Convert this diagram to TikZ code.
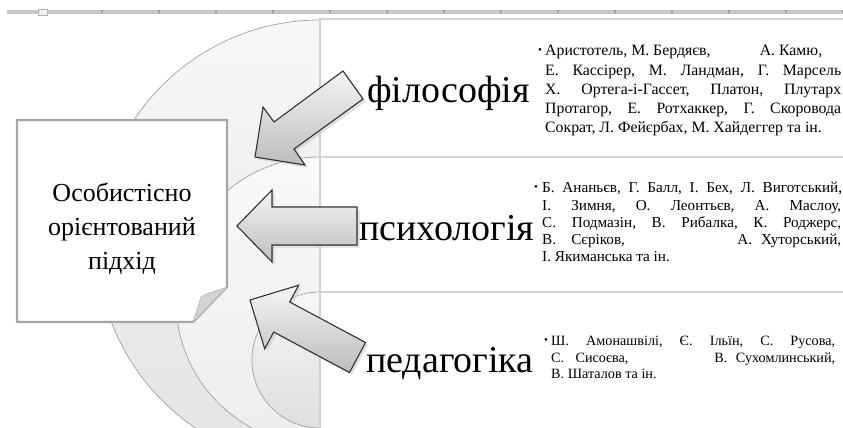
\documentclass[tikz,border=0pt]{standalone}
\usepackage{fontspec}
\setmainfont{Liberation Serif}
\definecolor{ringedge}{HTML}{A8A8A8}
\definecolor{rectedge}{HTML}{D2D2D2}
\definecolor{boxedge}{HTML}{A6A6A6}
\definecolor{rulergray}{HTML}{C8C8C8}
\newcommand\blockarr[1]{%
  \fill[gray!45, opacity=0.55, shift={(2.5,2.5)}] #1 -- cycle;
  \filldraw[arrowsty] #1 -- cycle;}
\begin{document}
\frenchspacing
\begin{tikzpicture}[x=1pt,y=-1pt,
  arrowsty/.style={draw=black!80, line width=1.1pt, line join=miter, top color=gray!8, bottom color=gray!52},
  ringsty/.style={draw=ringedge, line width=0.8pt},
  rectsty/.style={fill=white, draw=rectedge, line width=1.5pt},
  bigLabel/.style={anchor=base west, inner sep=0pt, font=\fontsize{38}{40}\selectfont},
  lnA/.style={anchor=base west, inner sep=0pt, font=\fontsize{15.8}{18}\selectfont},
  lnB/.style={anchor=base west, inner sep=0pt, font=\fontsize{15.2}{17}\selectfont},
  lnC/.style={anchor=base west, inner sep=0pt, font=\fontsize{14.2}{16}\selectfont},
  bul/.style={anchor=base west, inner sep=0pt, font=\fontsize{11}{12}\selectfont},
  boxtext/.style={align=center, inner sep=0pt, font=\fontsize{26}{34}\selectfont}]
\useasboundingbox (0,0) rectangle (843,428);
\clip (0,0) rectangle (843,428);
% ruler
\fill[rulergray] (7,10) rectangle (843,14);
\foreach \t in {101,158,...,843} \fill[gray!75] (\t,10.5) rectangle (\t+1.5,13);
\draw[gray!60, fill=gray!12, line width=0.6pt] (38,9) rectangle (47,15);
% nested half discs
\shade[top color=gray!6, bottom color=gray!22] (320,243) circle[radius=223pt];
\draw[ringsty] (320,243) circle[radius=223pt];
\shade[top color=gray!5, bottom color=gray!14] (320,301) circle[radius=144pt];
\draw[ringsty] (320,301) circle[radius=144pt];
\shade[top color=gray!6, bottom color=gray!26] (320,360) circle[radius=68pt];
\draw[ringsty] (320,360) circle[radius=68pt];
% list rectangles
\filldraw[rectsty] (320,19) rectangle (870,157);
\filldraw[rectsty] (320,157) rectangle (870,292);
\filldraw[rectsty] (320,292) rectangle (870,450);
% note box
\filldraw[fill=white, draw=boxedge, line width=2.2pt, line join=miter]
  (17,120) -- (227,120) -- (227,287) -- (193,322) -- (17,322) -- cycle;
\filldraw[fill=gray!35, draw=gray!55, line width=0.6pt]
  (227,287) .. controls (214,292) and (206,293) .. (201,297) -- (193,322) -- cycle;
\node[boxtext] (center) at (122,229) {Особистісно\\орієнтований\\підхід};
% arrows
\blockarr{(255,157) -- (263,107) -- (274,122) -- (343,71) -- (363,99) -- (294,149) -- (305,165)}
\blockarr{(237,226) -- (272,190) -- (272,207) -- (357,207) -- (357,245) -- (272,245) -- (272,262)}
\blockarr{(250,300) -- (298.7,285.2) -- (289.7,302) -- (365.5,342.5) -- (349.5,372.5) -- (273.7,332) -- (264.7,348.8)}
% big labels
\node[bigLabel] (phil) at (367,102) {філософія};
\node[bigLabel] (psych) at (359,240) {психологія};
\node[bigLabel] (ped) at (366,372) {педагогіка};
% philosophy list
\node[bul] (b1) at (538,54) {•};
\node[lnA] (a1) at (545,56) {\makebox[277pt][s]{Аристотель, М. Бердяєв,\hfill А. Камю,}};
\node[lnA] (a2) at (545,76) {\makebox[296pt][s]{Е. Кассірер, М. Ландман, Г. Марсель}};
\node[lnA] (a3) at (545,95) {\makebox[296pt][s]{Х. Ортега-і-Гассет, Платон, Плутарх}};
\node[lnA] (a4) at (545,113) {\makebox[296pt][s]{Протагор, Е. Ротхаккер, Г. Скоровода}};
\node[lnA] (a5) at (545,132) {Сократ, Л. Фейєрбах, М. Хайдеггер та ін.};
% psychology list
\node[bul] (b2) at (534,190) {•};
\node[lnB] (c1) at (542,192) {\makebox[300pt][s]{Б. Ананьєв, Г. Балл, І. Бех, Л. Виготський,}};
\node[lnB] (c2) at (542,210) {\makebox[299pt][s]{І. Зимня, О. Леонтьєв, А. Маслоу,}};
\node[lnB] (c3) at (542,227) {\makebox[299pt][s]{С. Подмазін, В. Рибалка, К. Роджерс,}};
\node[lnB] (c4) at (542,244) {\makebox[299pt][s]{В.\hspace{1em}Сєріков,\hfill А.\hspace{0.6em}Хуторський,}};
\node[lnB] (c5) at (542,261) {І. Якиманська та ін.};
% pedagogy list
\node[bul] (b3) at (544,343) {•};
\node[lnC] (d1) at (551,345) {\makebox[284pt][s]{Ш. Амонашвілі, Є. Ільїн, С. Русова,}};
\node[lnC] (d2) at (551,362) {\makebox[284pt][s]{С.\hspace{0.8em}Сисоєва,\hfill В.\hspace{0.6em}Сухомлинський,}};
\node[lnC] (d3) at (551,378) {В. Шаталов та ін.};
\end{tikzpicture}
\end{document}
